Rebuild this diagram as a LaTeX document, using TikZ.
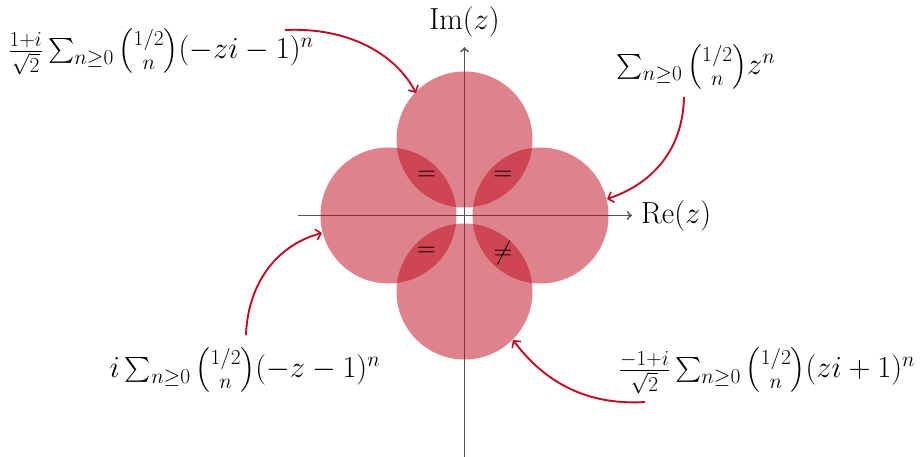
\RequirePackage{fix-cm}
\documentclass[tikz,border=0pt]{standalone}
\usepackage{amsmath}
\usetikzlibrary{arrows.meta}
\definecolor{circred}{RGB}{190,8,26}
\definecolor{arrred}{RGB}{192,12,36}
\definecolor{axisgray}{RGB}{85,85,85}
\tikzset{
  axisline/.style={draw=axisgray,line width=1.4pt,-{To[length=5pt,width=9pt]}},
  disk/.style={fill=circred,fill opacity=0.5,draw=none},
  pointer/.style={draw=arrred,line width=1.9pt,-{Straight Barb[length=5pt,width=11pt,line width=1.6pt]}},
  formula/.style={inner sep=0pt,font=\fontsize{30.5}{36}\selectfont},
  axlabel/.style={inner sep=0pt,font=\fontsize{30.5}{36}\selectfont},
  relsym/.style={inner sep=0pt,font=\fontsize{26}{30}\selectfont}
}
\begin{document}
\begin{tikzpicture}[x=1pt,y=-1pt]
\useasboundingbox (0,0) rectangle (921,457);
% axes
\coordinate (xs) at (298,215.5);
\coordinate (xe) at (632,215.5);
\coordinate (ys) at (464.5,457);
\coordinate (ye) at (464.5,47);
\draw[axisline] (xs) -- (xe);
\draw[axisline] (ys) -- (ye);
% disks
\fill[disk] (464.5,139.5) circle[radius=68pt];
\fill[disk] (540.5,215.5) circle[radius=68pt];
\fill[disk] (464.5,291.5) circle[radius=68pt];
\fill[disk] (388.5,215.5) circle[radius=68pt];
% relation symbols
\node[relsym] (r1) at (426.5,176) {$=$};
\node[relsym] (r2) at (503,176) {$=$};
\node[relsym] (r3) at (426.5,252) {$=$};
\node[relsym] (r4) at (503,253) {$\neq$};
% axis labels
\node[axlabel] (im) at (464.5,22) {$\mathrm{Im}(z)$};
\node[axlabel,anchor=west] (re) at (641,215.5) {$\mathrm{Re}(z)$};
% formulas
\node[formula] (f1) at (161,52) {$\tfrac{1+i}{\sqrt{2}}\sum_{n\geq 0}\tbinom{1/2}{n}(-zi-1)^n$};
\node[formula] (f2) at (696,67) {$\sum_{n\geq 0}\tbinom{1/2}{n}z^n$};
\node[formula] (f3) at (245,370) {$i\sum_{n\geq 0}\tbinom{1/2}{n}(-z-1)^n$};
\node[formula] (f4) at (767,371) {$\tfrac{-1+i}{\sqrt{2}}\sum_{n\geq 0}\tbinom{1/2}{n}(zi+1)^n$};
% pointers
\coordinate (a1s) at (285,30);
\coordinate (a1e) at (416,93);
\coordinate (a2s) at (684,97);
\coordinate (a2e) at (607,199);
\coordinate (a3s) at (246,335);
\coordinate (a3e) at (322,233);
\coordinate (a4s) at (645,402);
\coordinate (a4e) at (513,340);
\draw[pointer] (a1s) .. controls (350,27) and (396,55) .. (a1e);
\draw[pointer] (a2s) .. controls (683,150) and (652,184) .. (a2e);
\draw[pointer] (a3s) .. controls (248,280) and (280,244) .. (a3e);
\draw[pointer] (a4s) .. controls (580,406) and (540,376) .. (a4e);
\end{tikzpicture}
\end{document}
